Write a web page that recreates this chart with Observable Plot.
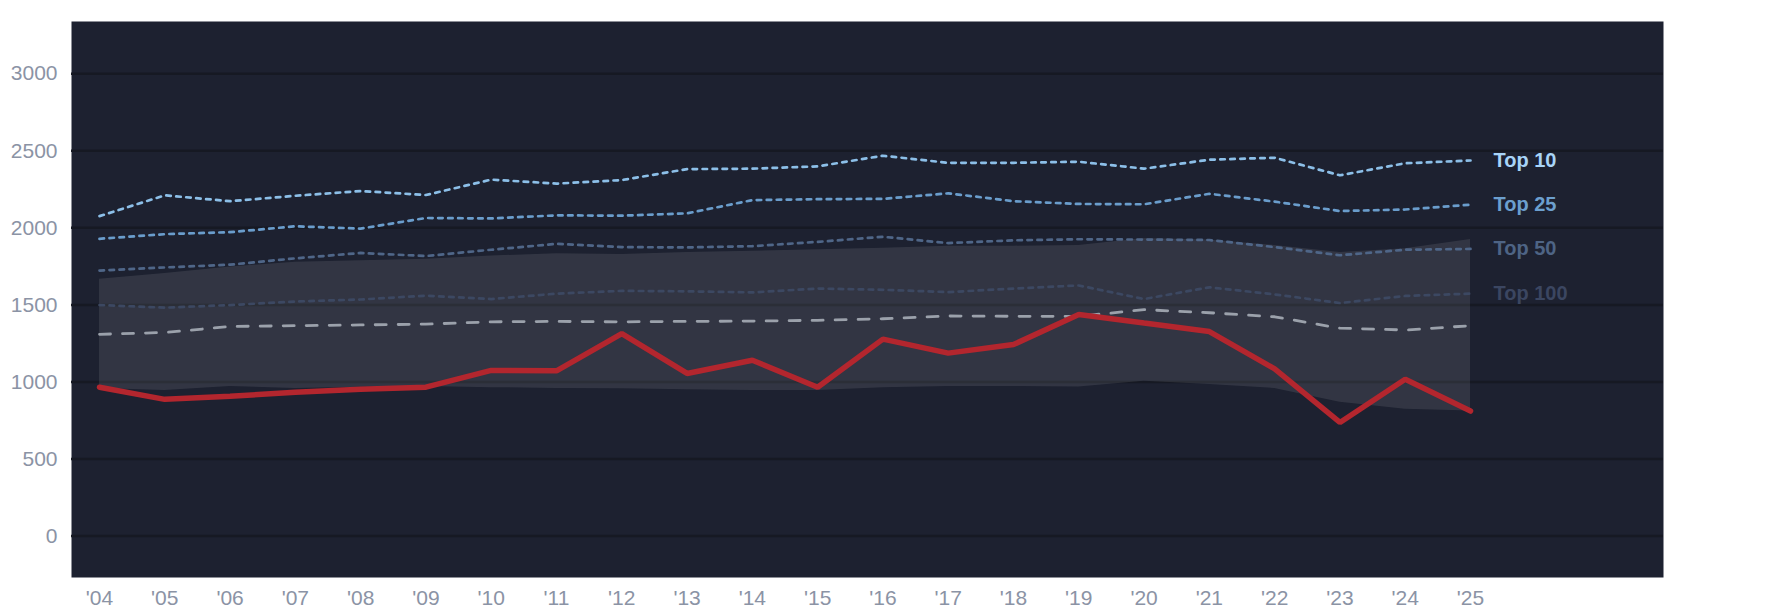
<!DOCTYPE html>
<html>
<head>
<meta charset="utf-8">
<script src="https://cdn.jsdelivr.net/npm/d3@7"></script>
<script src="https://cdn.jsdelivr.net/npm/@observablehq/plot@0.6"></script>
<style>
  html, body { margin: 0; padding: 0; background: #ffffff; }
  #chart svg { display: block; }
</style>
</head>
<body>
<div id="chart"></div>
<script>
const years = [2004, 2005, 2006, 2007, 2008, 2009, 2010, 2011, 2012, 2013, 2014, 2015, 2016, 2017, 2018, 2019, 2020, 2021, 2022, 2023, 2024, 2025];
const top10  = [2076, 2211, 2173, 2208, 2239, 2213, 2313, 2287, 2310, 2381, 2384, 2399, 2468, 2422, 2422, 2429, 2384, 2442, 2455, 2341, 2419, 2437];
const top25  = [1929, 1959, 1972, 2010, 1995, 2064, 2061, 2081, 2079, 2094, 2180, 2186, 2188, 2224, 2173, 2155, 2153, 2221, 2170, 2109, 2119, 2150];
const top50  = [1723, 1743, 1761, 1802, 1837, 1817, 1858, 1896, 1875, 1873, 1881, 1909, 1942, 1901, 1919, 1926, 1924, 1921, 1875, 1822, 1858, 1863];
const top100 = [1499, 1482, 1499, 1522, 1535, 1560, 1538, 1573, 1591, 1588, 1581, 1606, 1598, 1583, 1606, 1626, 1538, 1614, 1568, 1512, 1558, 1573];
const median = [1309, 1321, 1360, 1365, 1370, 1375, 1390, 1393, 1390, 1393, 1395, 1400, 1410, 1428, 1426, 1426, 1469, 1449, 1423, 1349, 1337, 1365];
const team   = [966, 887, 907, 933, 953, 966, 1075, 1072, 1314, 1055, 1141, 966, 1278, 1187, 1243, 1438, 1382, 1327, 1085, 737, 1017, 811];
const bandHigh = [1667, 1703, 1746, 1776, 1787, 1797, 1817, 1832, 1827, 1840, 1848, 1858, 1868, 1881, 1881, 1886, 1931, 1921, 1886, 1840, 1865, 1924];
const bandLow  = [958, 945, 971, 958, 966, 971, 963, 958, 956, 950, 945, 945, 963, 971, 971, 968, 1004, 983, 958, 869, 823, 811];
const yTicks = [0, 500, 1000, 1500, 2000, 2500, 3000];
const tierNames = ["Top 10", "Top 25", "Top 50", "Top 100"];

const tierValues = [top10, top25, top50, top100];
const tierLine = ["#8cbfe8", "#6a9dcc", "#4f6688", "#3c4862"];
const tierText = ["#a8d4f8", "#6c9fce", "#4e6485", "#3b4661"];

const rows = years.map((year, i) => ({year, high: bandHigh[i], low: bandLow[i], median: median[i], team: team[i]}));

const tierMarks = tierNames.flatMap((name, k) => {
  const data = years.map((year, i) => ({year, value: tierValues[k][i]}));
  const last = data[data.length - 1];
  return [
    Plot.line(data, {x: "year", y: "value", stroke: tierLine[k], strokeWidth: 2.7, strokeDasharray: "4.5,5.5"}),
    Plot.text([last], {x: "year", y: "value", text: () => name, dx: 23, textAnchor: "start",
      fill: tierText[k], fontWeight: "bold", fontSize: 20, fontFamily: "Liberation Sans, Arial, sans-serif"})
  ];
});

const chart = Plot.plot({
  width: 1785,
  height: 614,
  marginLeft: 71,
  marginRight: 122,
  marginTop: 21,
  marginBottom: 37,
  style: {fontFamily: "Liberation Sans, Arial, sans-serif", fontSize: "21px", color: "#8b93a5", background: "transparent"},
  x: {domain: [2003.571, 2027.956], axis: null},
  y: {domain: [-269, 3339], axis: null},
  marks: [
    Plot.frame({fill: "#1d2130", stroke: "none"}),
    Plot.ruleY(yTicks, {stroke: "#161923", strokeWidth: 2.5}),
    Plot.areaY(rows, {x: "year", y1: "low", y2: "high", fill: "#ffffff", fillOpacity: 0.095}),
    ...tierMarks,
    Plot.line(rows, {x: "year", y: "median", stroke: "#9ba1ab", strokeWidth: 2.8, strokeDasharray: "11,12"}),
    Plot.line(rows, {x: "year", y: "team", stroke: "#b3262e", strokeWidth: 5.5, strokeLinejoin: "miter"}),
    Plot.axisX(years, {tickSize: 0, tickPadding: 13, tickFormat: d => "'" + String(d).slice(2), fill: "#8b93a5", fontSize: 21, label: null}),
    Plot.axisY(yTicks, {tickSize: 0, tickPadding: 14, tickFormat: d => String(d), fill: "#8b93a5", fontSize: 21, label: null})
  ]
});
document.getElementById("chart").append(chart);
</script>
</body>
</html>
